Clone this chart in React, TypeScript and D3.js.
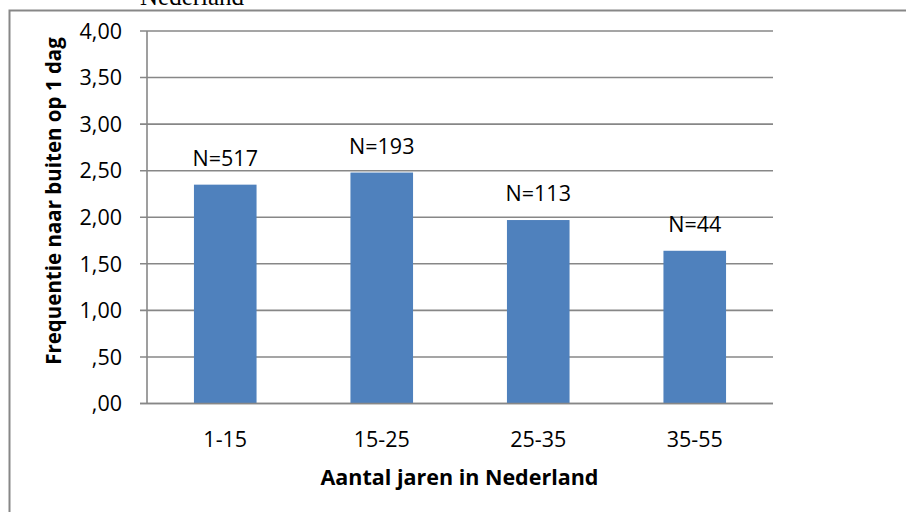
import React from "react";
import * as d3 from "d3";

const categories = ["1-15", "15-25", "25-35", "35-55"];
const values = [2.35, 2.48, 1.97, 1.64];
const sampleLabels = ["N=517", "N=193", "N=113", "N=44"];
const yTicks = [0, 0.5, 1, 1.5, 2, 2.5, 3, 3.5, 4];
const yTitle = "Frequentie naar buiten op 1 dag";
const xTitle = "Aantal jaren in Nederland";
const topCaption = "Nederland";

const W = 906;
const H = 512;
const FONT = "'Open Sans', sans-serif";
const GRID = "#878787";

function fmt(v: number): string {
  const s = v.toFixed(2).replace(".", ",");
  return s.startsWith("0") ? s.slice(1) : s;
}

export default function App() {
  const x = d3.scaleBand<string>().domain(categories).range([147, 773]).paddingInner(0.6).paddingOuter(0.3);
  const y = d3.scaleLinear().domain([0, 4]).range([403.5, 31]);

  return (
    <svg
      width={W}
      height={H}
      viewBox={`0 0 ${W} ${H}`}
      style={{ position: "fixed", left: 0, top: 0, background: "#fff" }}
    >
      <rect x={0} y={0} width={W} height={H} fill="#fff" />
      {/* caption of the surrounding document, clipped at the top */}
      <text x={140} y={4.5} fontFamily="'Liberation Serif', 'Times New Roman', serif" fontSize={25} fill="#000">
        {topCaption}
      </text>
      {/* chart frame */}
      <rect x={9.5} y={10.5} width={1000} height={600} fill="none" stroke={GRID} strokeWidth={2} />

      {/* gridlines and y ticks */}
      {yTicks.map((t) => (
        <g key={t}>
          <line x1={140} x2={773} y1={y(t)} y2={y(t)} stroke={GRID} strokeWidth={1.6} />
          <text
            x={122}
            y={y(t)}
            dy="0.36em"
            textAnchor="end"
            fontFamily={FONT}
            fontSize={21.5}
            fill="#000"
          >
            {fmt(t)}
          </text>
        </g>
      ))}
      <line x1={147} x2={147} y1={y(4)} y2={y(0)} stroke={GRID} strokeWidth={1.6} />

      {/* bars */}
      {categories.map((c, i) => (
        <g key={c}>
          <rect
            x={x(c)!}
            y={y(values[i])}
            width={x.bandwidth()}
            height={y(0) - y(values[i])}
            fill="#4F81BD"
          />
          <text
            x={x(c)! + x.bandwidth() / 2}
            y={y(values[i]) - 19}
            textAnchor="middle"
            fontFamily={FONT}
            fontSize={21.5}
            fill="#000"
          >
            {sampleLabels[i]}
          </text>
          <text
            x={x(c)! + x.bandwidth() / 2}
            y={447}
            textAnchor="middle"
            fontFamily={FONT}
            fontSize={21.5}
            fill="#000"
          >
            {c}
          </text>
        </g>
      ))}
      <line x1={140} x2={773} y1={y(0)} y2={y(0)} stroke={GRID} strokeWidth={1.6} />

      {/* axis titles */}
      <text
        transform={`translate(61,201) rotate(-90)`}
        textAnchor="middle"
        fontFamily={FONT}
        fontWeight="bold"
        fontSize={20.5}
        fill="#000"
      >
        {yTitle}
      </text>
      <text
        x={459.5}
        y={485}
        textAnchor="middle"
        fontFamily={FONT}
        fontWeight="bold"
        fontSize={21.5}
        fill="#000"
      >
        {xTitle}
      </text>
    </svg>
  );
}
